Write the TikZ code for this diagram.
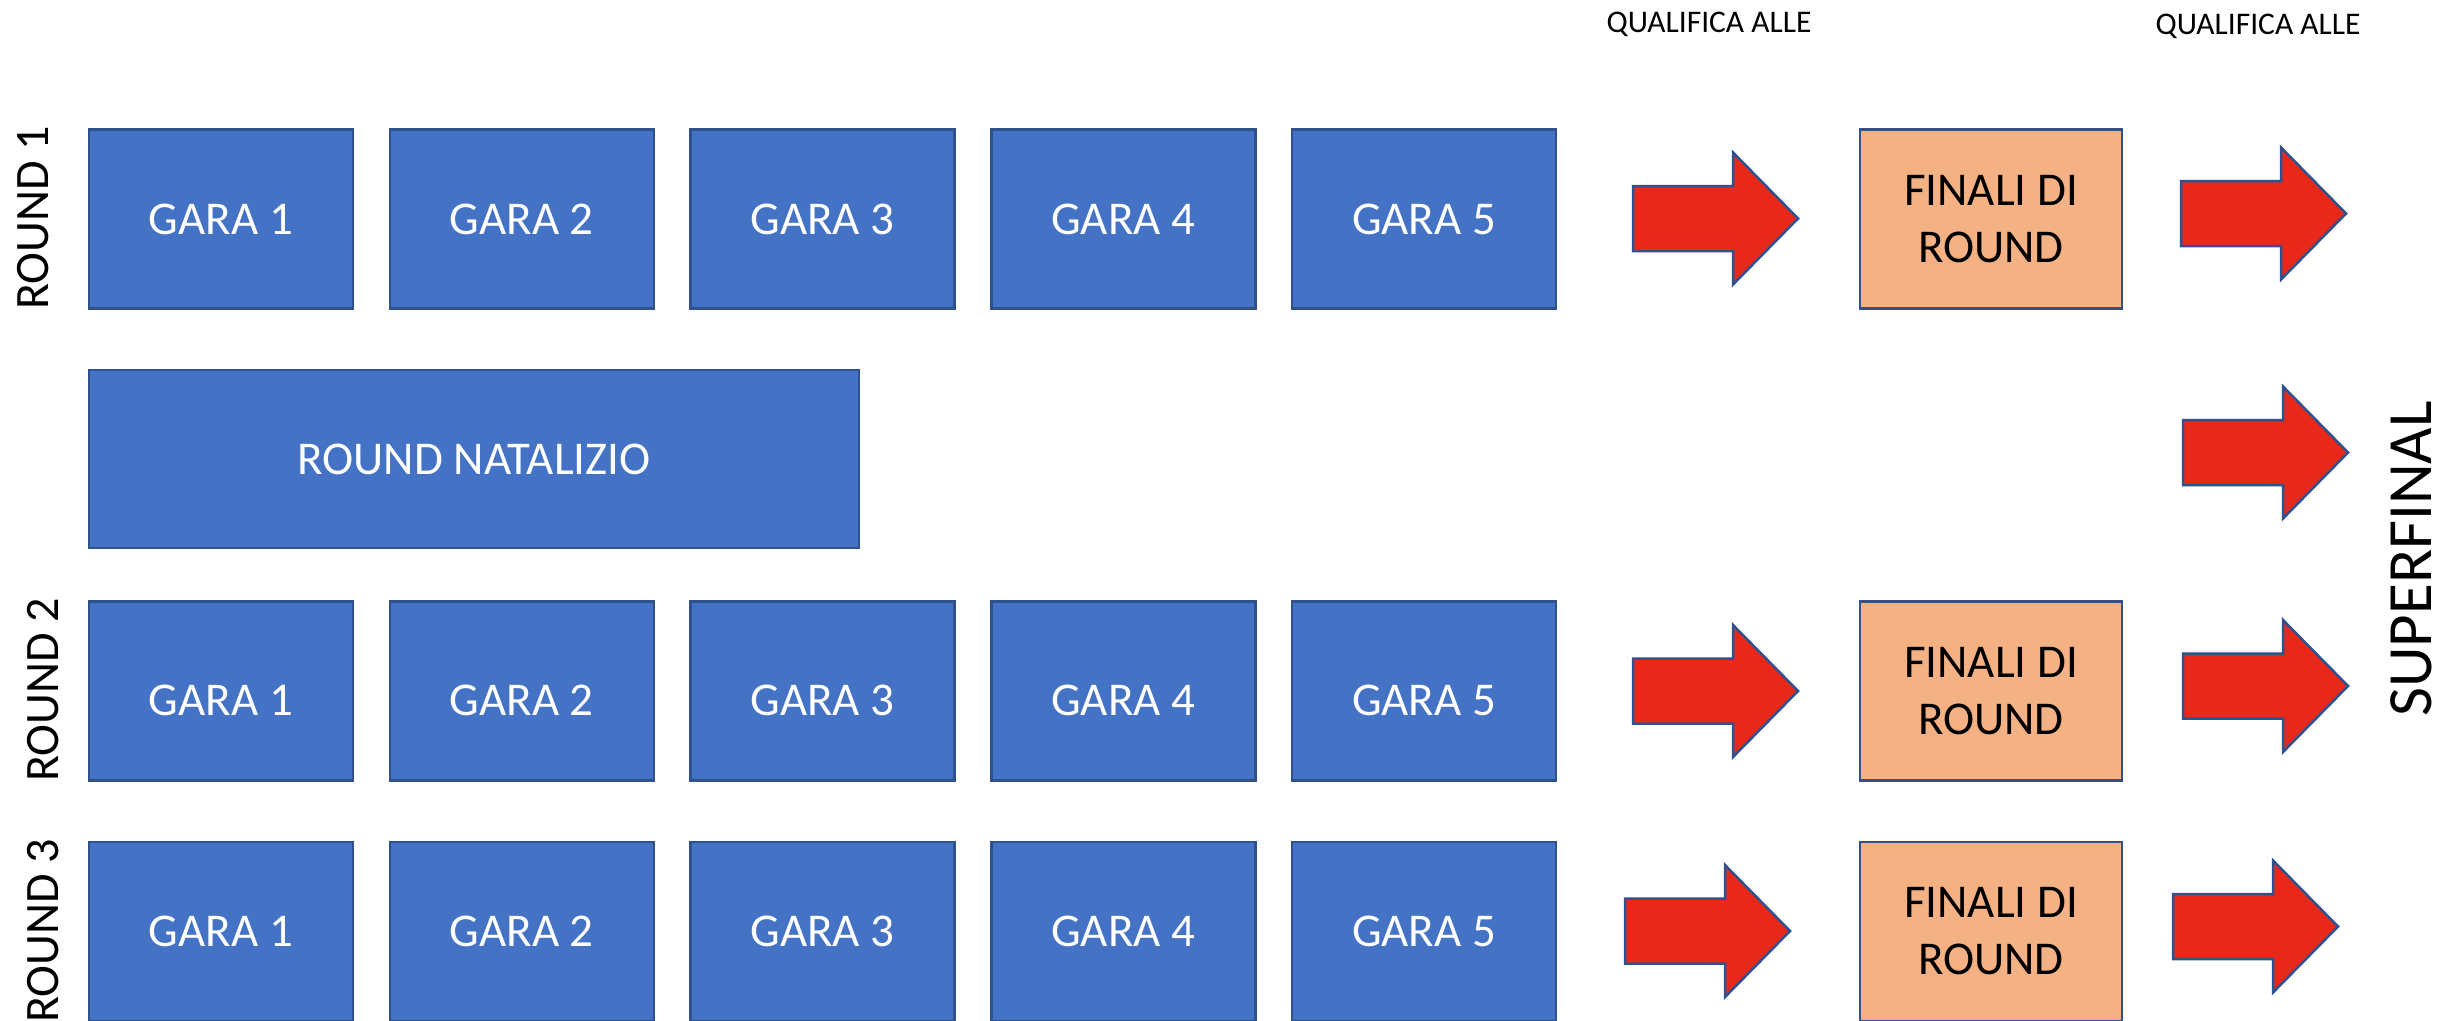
\documentclass[tikz,border=0pt]{standalone}
\usepackage{fontspec}
\setmainfont{Carlito}
\definecolor{garablue}{HTML}{4472C4}
\definecolor{edgeblue}{HTML}{2F528F}
\definecolor{finalorange}{HTML}{F4B183}
\definecolor{arrowred}{HTML}{E8291A}
\tikzset{
  garabox/.style={draw=edgeblue, fill=garablue, line width=2.5pt, minimum width=264pt,
    minimum height=179pt, inner sep=0pt, text=white, font=\fontsize{47}{57}\selectfont},
  finalbox/.style={draw=edgeblue, fill=finalorange, line width=2.5pt, minimum width=262pt,
    minimum height=179pt, inner sep=0pt, text=black, align=center, font=\fontsize{47}{57}\selectfont},
  lowtext/.style={text height=#1, text depth=0pt},
  roundlabel/.style={rotate=90, inner sep=0pt, font=\fontsize{48}{58}\selectfont},
  qualtext/.style={inner sep=0pt, font=\fontsize{31.5}{38}\selectfont},
  arrowshape/.style={draw=edgeblue, fill=arrowred, line width=2.5pt, line join=miter},
  bigarrow/.pic={\draw[arrowshape] (0,-32.5) -- (100,-32.5) -- (100,-66) -- (165,0)
    -- (100,66) -- (100,32.5) -- (0,32.5) -- cycle;}
}
\begin{document}
\begin{tikzpicture}[x=1pt, y=-1pt]
\useasboundingbox[fill=white] (0,0) rectangle (2440,1020);

% race boxes
\foreach \i/\x in {1/221,2/521.75,3/822.5,4/1123.25,5/1424} {
  \node[garabox] (r1g\i) at (\x,219) {GARA \i};
  \node[garabox, lowtext=48pt] (r2g\i) at (\x,691) {GARA \i};
  \node[garabox] (r3g\i) at (\x,931.5) {GARA \i};
}
\node[garabox, minimum width=770pt, minimum height=178pt] (natal) at (474,459) {ROUND NATALIZIO};

% round finals
\node[finalbox] (f1) at (1991,219) {FINALI DI\\ROUND};
\node[finalbox] (f2) at (1991,691) {FINALI DI\\ROUND};
\node[finalbox] (f3) at (1991,931.5) {FINALI DI\\ROUND};

% round labels
\node[roundlabel] (lab1) at (33,218) {ROUND 1};
\node[roundlabel] (lab2) at (43.5,690) {ROUND 2};
\node[roundlabel] (lab3) at (43.5,931) {ROUND 3};

% qualification labels
\node[qualtext] (q1) at (1709,24) {QUALIFICA ALLE};
\node[qualtext] (q2) at (2258,26.5) {QUALIFICA ALLE};

% superfinal
\node[rotate=90, inner sep=0pt, font=\fontsize{63}{75}\selectfont] (sf) at (2411,559) {SUPERFINAL};

% arrows
\pic at (1633,218.5) {bigarrow};
\pic at (2181,213.5) {bigarrow};
\pic at (2183,452.5) {bigarrow};
\pic at (1633,691) {bigarrow};
\pic at (2183,686) {bigarrow};
\pic at (1625,931) {bigarrow};
\pic at (2173,926.5) {bigarrow};
\end{tikzpicture}
\end{document}
